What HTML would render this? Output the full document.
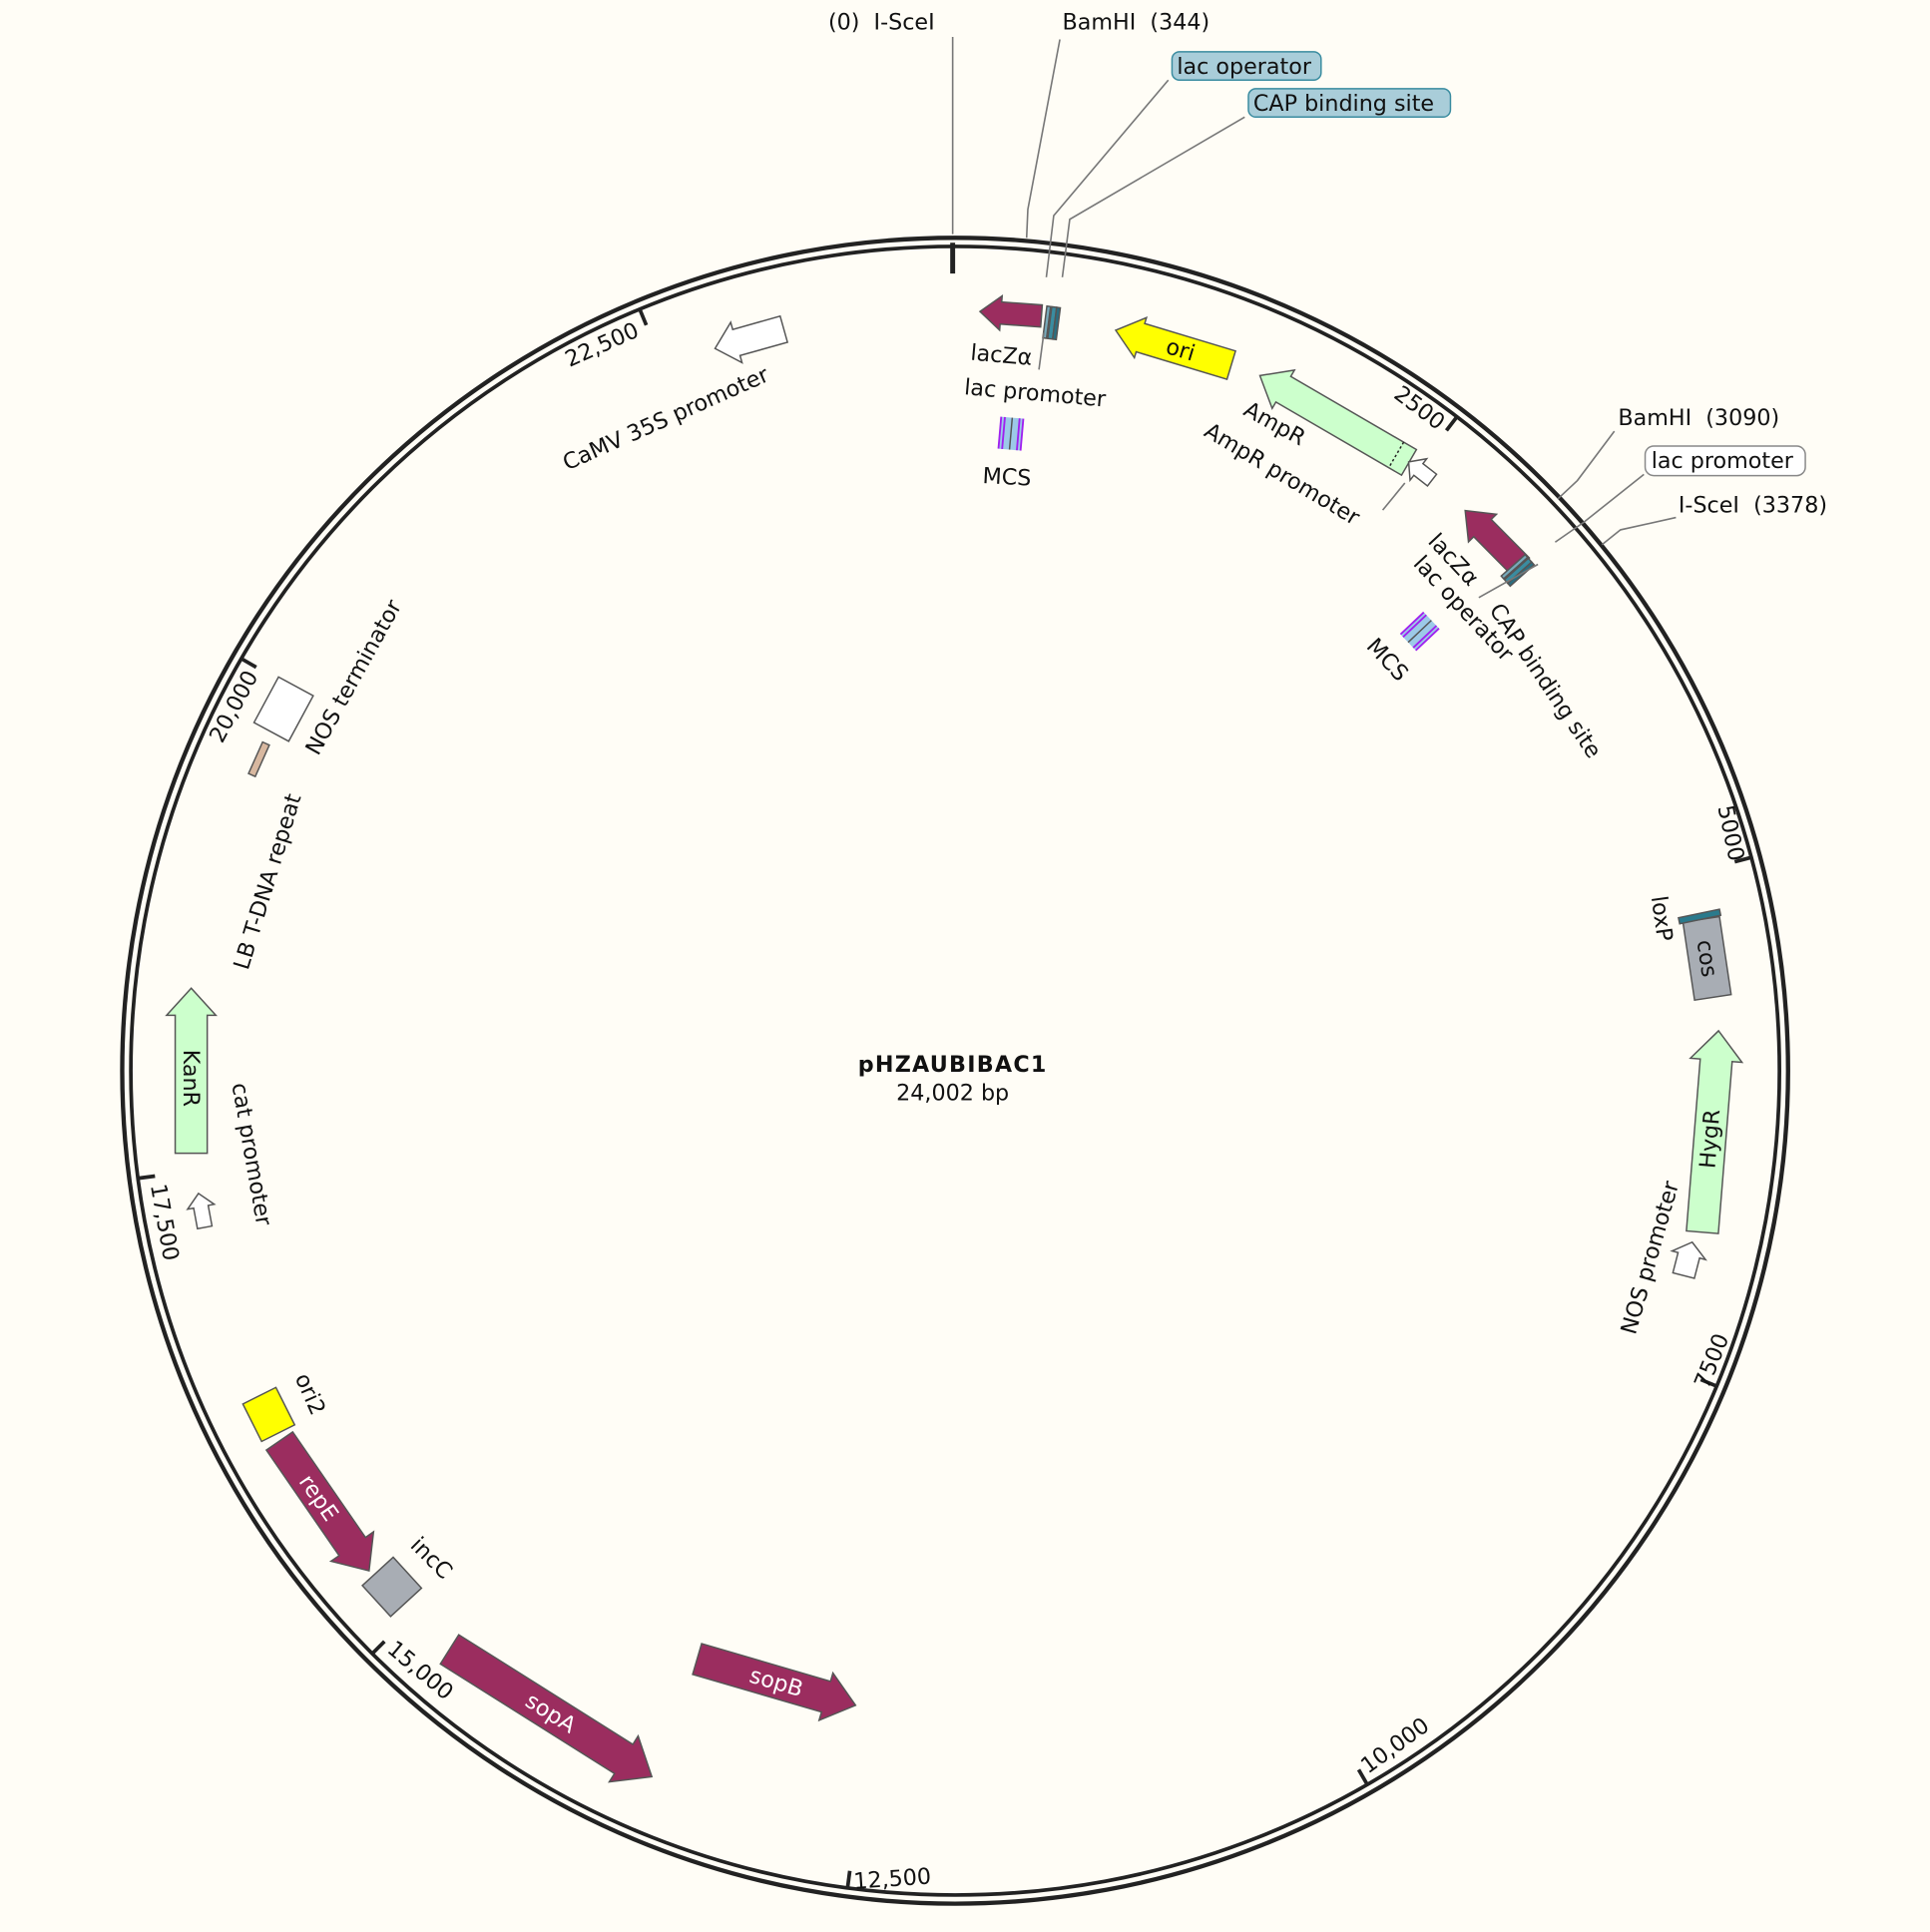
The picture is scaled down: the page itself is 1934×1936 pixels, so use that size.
<!DOCTYPE html>
<html><head><meta charset="utf-8"><style>
html,body{margin:0;padding:0;background:#fffdf6;}
svg{display:block;}
text{font-family:"DejaVu Sans","Liberation Sans",sans-serif;font-size:18px;fill:#111;white-space:pre;}
</style></head><body>
<svg width="1934" height="1936" viewBox="0 0 1566 1568" xmlns="http://www.w3.org/2000/svg">
<rect width="1566" height="1568" fill="#fffdf6"/>
<circle cx="775" cy="869" r="676" fill="none" stroke="#222" stroke-width="3.5"/>
<circle cx="775" cy="869" r="669" fill="none" stroke="#222" stroke-width="3"/>
<g stroke="#222" stroke-width="3">
<line x1="773" y1="197" x2="773" y2="222" stroke-width="4"/>
<g transform="rotate(37.5 775 869)"><line x1="775" y1="200" x2="775" y2="214"/></g>
<g transform="rotate(75 775 869)"><line x1="775" y1="200" x2="775" y2="214"/></g>
<g transform="rotate(112.5 775 869)"><line x1="775" y1="200" x2="775" y2="214"/></g>
<g transform="rotate(150 775 869)"><line x1="775" y1="200" x2="775" y2="214"/></g>
<g transform="rotate(187.5 775 869)"><line x1="775" y1="200" x2="775" y2="214"/></g>
<g transform="rotate(225 775 869)"><line x1="775" y1="200" x2="775" y2="214"/></g>
<g transform="rotate(262.5 775 869)"><line x1="775" y1="200" x2="775" y2="214"/></g>
<g transform="rotate(300 775 869)"><line x1="775" y1="200" x2="775" y2="214"/></g>
<g transform="rotate(337.5 775 869)"><line x1="775" y1="200" x2="775" y2="214"/></g>
</g>
<g stroke="#555" stroke-width="1.2">
<g transform="rotate(4.2 775 869) translate(775 253)"><path d="M-25,0 L-8,-14 L-8,-9 L25,-9 L25,9 L-8,9 L-8,14 Z" fill="#9b2d5f"/></g>
<g transform="rotate(7.3 775 869) translate(775 257)"><rect x="-5" y="-13" width="3" height="26" fill="#7ab"/><rect x="-1" y="-13" width="4" height="26" fill="#3a8ca0"/><rect x="3" y="-13" width="3" height="26" fill="#2a6e80"/></g>
<g transform="rotate(16.8 775 869) translate(775 256)"><path d="M-49,0 L-28,-17 L-28,-12 L49,-12 L49,12 L-28,12 L-28,17 Z" fill="#ffff00"/><text x="6" y="6" text-anchor="middle" stroke="none" font-size="17">ori</text></g>
<g transform="rotate(30.2 775 869) translate(775 257)"><path d="M-70,0 L-48,-18 L-48,-12 L70,-12 L70,12 L-48,12 L-48,18 Z" fill="#ccffcc"/><line x1="58" y1="-12" x2="58" y2="12" stroke="#222" stroke-dasharray="2,2"/></g>
<g transform="rotate(37.8 775 869) translate(775 253)"><path d="M-12,0 L-2,-11 L-2,-6 L12,-6 L12,6 L-2,6 L-2,11 Z" fill="#fff"/></g>
<g transform="rotate(-15.7 775 869) translate(775 252)"><path d="M-29,0 L-11,-17 L-11,-11 L29,-11 L29,11 L-11,11 L-11,17 Z" fill="#fff"/></g>
<g transform="rotate(45.3 775 869) translate(775 255)"><path d="M-32,0 L-12,-16 L-12,-10 L32,-10 L32,10 L-12,10 L-12,16 Z" fill="#9b2d5f"/></g>
<g transform="rotate(48.3 775 869) translate(775 258)"><rect x="-5" y="-13" width="3" height="26" fill="#7ab"/><rect x="-1" y="-13" width="4" height="26" fill="#3a8ca0"/><rect x="3" y="-13" width="3" height="26" fill="#2a6e80"/></g>
<g transform="rotate(5 775 869) translate(775 350)"><rect x="-9" y="-13" width="18" height="26" fill="#9cc9e8" stroke="none"/><g stroke="#a020f0" stroke-width="1.5"><line x1="-9" y1="-13" x2="-9" y2="13"/><line x1="-6" y1="-13" x2="-6" y2="13"/><line x1="6" y1="-13" x2="6" y2="13"/><line x1="9" y1="-13" x2="9" y2="13"/></g><line x1="0" y1="-13" x2="0" y2="13" stroke="#555"/></g>
<g transform="rotate(46.6 775 869) translate(775 350)"><rect x="-9" y="-13" width="18" height="26" fill="#9cc9e8" stroke="none"/><g stroke="#a020f0" stroke-width="1.5"><line x1="-9" y1="-13" x2="-9" y2="13"/><line x1="-6" y1="-13" x2="-6" y2="13"/><line x1="6" y1="-13" x2="6" y2="13"/><line x1="9" y1="-13" x2="9" y2="13"/></g><line x1="0" y1="-13" x2="0" y2="13" stroke="#555"/></g>
<g transform="rotate(81.5 775 869) translate(775 252)"><rect x="-32" y="-15" width="64" height="30" fill="#a8adb4"/><text x="0" y="6" text-anchor="middle" stroke="none" font-size="16">cos</text></g>
<g transform="rotate(78.3 775 869) translate(775 252)"><rect x="-2.5" y="-17" width="5" height="34" fill="#2a7a8c"/></g>
<g transform="rotate(94.6 775 869) translate(775 254)"><path d="M-82,0 L-58,-21 L-58,-13 L82,-13 L82,13 L-58,13 L-58,21 Z" fill="#ccffcc"/><text x="6" y="6" text-anchor="middle" stroke="none" font-size="17" transform="rotate(180 6 0)">HygR</text></g>
<g transform="rotate(104.4 775 869) translate(775 255)"><path d="M-14,0 L-3,-14 L-3,-9 L14,-9 L14,9 L-3,9 L-3,14 Z" fill="#fff"/></g>
<g transform="rotate(196.3 775 869) translate(775 352)"><path d="M-67,0 L-42,-20 L-42,-13 L67,-13 L67,13 L-42,13 L-42,20 Z" fill="#9b2d5f"/><text x="0" y="6" text-anchor="middle" stroke="none" font-size="18" transform="rotate(180 0 0)" style="fill:#fff">sopB</text></g>
<g transform="rotate(212.2 775 869) translate(775 253)"><path d="M-97,0 L-70,-22 L-70,-14 L97,-14 L97,14 L-70,14 L-70,22 Z" fill="#9b2d5f"/><text x="0" y="6" text-anchor="middle" stroke="none" font-size="18" transform="rotate(180 0 0)" style="fill:#fff">sopA</text></g>
<g transform="rotate(235.4 775 869) translate(775 247)"><path d="M-64,0 L-40,-21 L-40,-13 L64,-13 L64,13 L-40,13 L-40,21 Z" fill="#9b2d5f"/><text x="8" y="6" text-anchor="middle" stroke="none" font-size="18" transform="rotate(180 8 0)" style="fill:#fff">repE</text></g>
<g transform="rotate(227.5 775 869) translate(775 249)"><rect x="-17" y="-17" width="34" height="34" fill="#a8adb4"/></g>
<g transform="rotate(243.4 775 869) translate(775 246)"><rect x="-17" y="-15" width="34" height="30" fill="#ffff00"/></g>
<g transform="rotate(259.5 775 869) translate(775 247)"><path d="M14,0 L3,-11 L3,-6 L-14,-6 L-14,6 L3,6 L3,11 Z" fill="#fff"/></g>
<g transform="rotate(270 775 869) translate(775 249)"><path d="M67,0 L45,-20 L45,-13 L-67,-13 L-67,13 L45,13 L45,20 Z" fill="#ccffcc"/><text x="-6" y="6" text-anchor="middle" stroke="none" font-size="17" transform="rotate(180 -6 0)">KanR</text></g>
<g transform="rotate(294.1 775 869) translate(775 250)"><rect x="-14" y="-3" width="28" height="6" fill="#d8b8a0"/></g>
<g transform="rotate(298.3 775 869) translate(775 250)"><rect x="-21" y="-16" width="42" height="32" fill="#fff"/></g>
</g>
<g stroke="#777" stroke-width="1.3" fill="none">
<path d="M773,30 L773,190"/>
<path d="M860,32 L834,170 L833,193"/>
<path d="M948,65 L855,175 L849,225"/>
<path d="M1010,95 L868,178 L862,225"/>
<path d="M1310,350 L1280,390 L1264,405"/>
<path d="M1334,385 L1285,424 L1262,440"/>
<path d="M1360,420 L1315,430 L1300,442"/>
<path d="M847,270 L843,300"/>
<path d="M1140,392 L1122,414"/>
<path d="M1248,458 L1200,485"/>
</g>
<text x="672" y="24">(0)  I-SceI</text>
<text x="862" y="24">BamHI  (344)</text>
<rect x="951" y="42" width="121" height="23" rx="6" fill="#a9cdd9" stroke="#3a8ca0" stroke-width="1.2"/>
<text x="955" y="60" font-size="17">lac operator</text>
<rect x="1013" y="72" width="164" height="23" rx="6" fill="#a9cdd9" stroke="#3a8ca0" stroke-width="1.2"/>
<text x="1017" y="90" font-size="17">CAP binding site</text>
<text x="1313" y="345">BamHI  (3090)</text>
<rect x="1335" y="362" width="130" height="24" rx="7" fill="#fff" stroke="#888" stroke-width="1.2"/>
<text x="1340" y="380" font-size="17">lac promoter</text>
<text x="1362" y="416">I-SceI  (3378)</text>
<text transform="translate(787 292) rotate(5)">lacZα</text>
<text transform="translate(782 320) rotate(5)">lac promoter</text>
<text transform="translate(797 392) rotate(3)">MCS</text>
<text transform="translate(1008 336) rotate(29)">AmpR</text>
<text transform="translate(976 353) rotate(31)">AmpR promoter</text>
<text transform="translate(1130 322) rotate(37)" font-size="17">2500</text>
<text transform="translate(1158 440) rotate(47)">lacZα</text>
<text transform="translate(1146 458) rotate(47)">lac operator</text>
<text transform="translate(1208 495) rotate(56)">CAP binding site</text>
<text transform="translate(1108 525) rotate(47)">MCS</text>
<text transform="translate(1394 655) rotate(78)" font-size="17">5000</text>
<text transform="translate(1340 728) rotate(82)">loxP</text>
<text transform="translate(1327 1084) rotate(-74)">NOS promoter</text>
<text transform="translate(1386 1128) rotate(-68)" font-size="17">7500</text>
<text transform="translate(1110 1440) rotate(-36)" font-size="17">10,000</text>
<text transform="translate(693 1533) rotate(-4)" font-size="17">12,500</text>
<text transform="translate(313 1340) rotate(40)" font-size="17">15,000</text>
<text transform="translate(332 1255) rotate(45)">incC</text>
<text transform="translate(239 1118) rotate(66)">ori2</text>
<text transform="translate(122 962) rotate(80)" font-size="17">17,500</text>
<text transform="translate(188 880) rotate(80)">cat promoter</text>
<text transform="translate(201 788) rotate(-73)">LB T-DNA repeat</text>
<text transform="translate(258 614) rotate(-61)">NOS terminator</text>
<text transform="translate(180 604) rotate(-62)" font-size="17">20,000</text>
<text transform="translate(462 298) rotate(-24)" font-size="17">22,500</text>
<text transform="translate(460 382) rotate(-24)">CaMV 35S promoter</text>
<text x="773" y="870" text-anchor="middle" font-weight="bold" font-size="22" letter-spacing="1">pHZAUBIBAC1</text>
<text x="773" y="893" text-anchor="middle" font-size="17">24,002 bp</text>
</svg>
</body></html>
